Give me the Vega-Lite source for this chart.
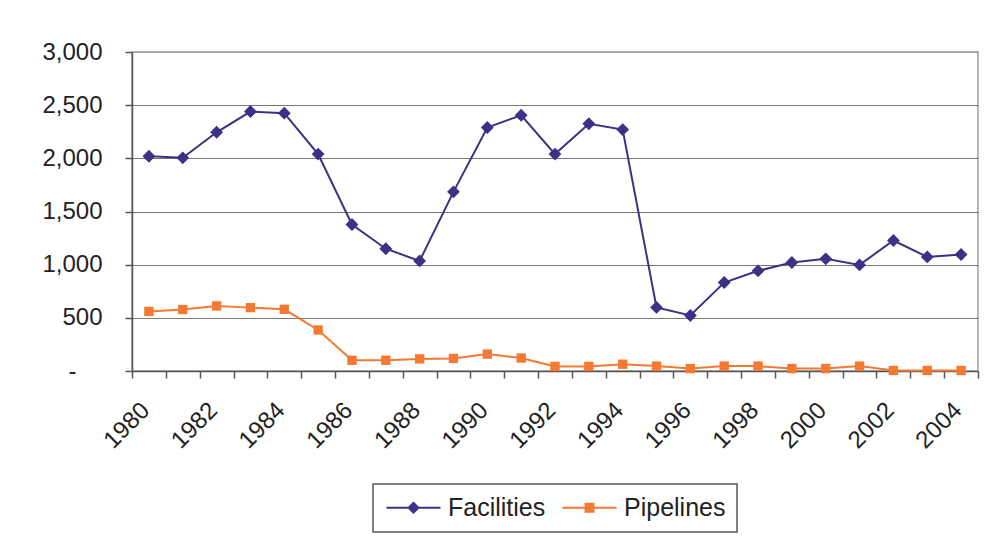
{
  "$schema": "https://vega.github.io/schema/vega-lite/v6.json",
  "width": 846,
  "height": 319,
  "autosize": {"type": "none"},
  "padding": {"left": 132, "top": 52, "right": 6, "bottom": 165},
  "background": "white",
  "config": {
    "font": "Liberation Sans",
    "view": {"stroke": "#A59D98", "strokeWidth": 1.5},
    "legend": {"strokeWidth": 1.5}
  },
  "data": {
    "values": [
      {"year": 1980, "series": "Facilities", "value": 2020},
      {"year": 1981, "series": "Facilities", "value": 2005},
      {"year": 1982, "series": "Facilities", "value": 2245},
      {"year": 1983, "series": "Facilities", "value": 2440},
      {"year": 1984, "series": "Facilities", "value": 2425},
      {"year": 1985, "series": "Facilities", "value": 2040},
      {"year": 1986, "series": "Facilities", "value": 1378},
      {"year": 1987, "series": "Facilities", "value": 1150},
      {"year": 1988, "series": "Facilities", "value": 1035},
      {"year": 1989, "series": "Facilities", "value": 1685},
      {"year": 1990, "series": "Facilities", "value": 2290},
      {"year": 1991, "series": "Facilities", "value": 2405},
      {"year": 1992, "series": "Facilities", "value": 2040},
      {"year": 1993, "series": "Facilities", "value": 2325},
      {"year": 1994, "series": "Facilities", "value": 2270},
      {"year": 1995, "series": "Facilities", "value": 598},
      {"year": 1996, "series": "Facilities", "value": 522},
      {"year": 1997, "series": "Facilities", "value": 832},
      {"year": 1998, "series": "Facilities", "value": 942},
      {"year": 1999, "series": "Facilities", "value": 1020},
      {"year": 2000, "series": "Facilities", "value": 1055},
      {"year": 2001, "series": "Facilities", "value": 998},
      {"year": 2002, "series": "Facilities", "value": 1227},
      {"year": 2003, "series": "Facilities", "value": 1073},
      {"year": 2004, "series": "Facilities", "value": 1096},
      {"year": 1980, "series": "Pipelines", "value": 560},
      {"year": 1981, "series": "Pipelines", "value": 578},
      {"year": 1982, "series": "Pipelines", "value": 612},
      {"year": 1983, "series": "Pipelines", "value": 596},
      {"year": 1984, "series": "Pipelines", "value": 580},
      {"year": 1985, "series": "Pipelines", "value": 386},
      {"year": 1986, "series": "Pipelines", "value": 101},
      {"year": 1987, "series": "Pipelines", "value": 101},
      {"year": 1988, "series": "Pipelines", "value": 114},
      {"year": 1989, "series": "Pipelines", "value": 118},
      {"year": 1990, "series": "Pipelines", "value": 159},
      {"year": 1991, "series": "Pipelines", "value": 122},
      {"year": 1992, "series": "Pipelines", "value": 43},
      {"year": 1993, "series": "Pipelines", "value": 43},
      {"year": 1994, "series": "Pipelines", "value": 64},
      {"year": 1995, "series": "Pipelines", "value": 46},
      {"year": 1996, "series": "Pipelines", "value": 23},
      {"year": 1997, "series": "Pipelines", "value": 46},
      {"year": 1998, "series": "Pipelines", "value": 46},
      {"year": 1999, "series": "Pipelines", "value": 23},
      {"year": 2000, "series": "Pipelines", "value": 23},
      {"year": 2001, "series": "Pipelines", "value": 46},
      {"year": 2002, "series": "Pipelines", "value": 5},
      {"year": 2003, "series": "Pipelines", "value": 5},
      {"year": 2004, "series": "Pipelines", "value": 5}
    ]
  },
  "encoding": {
    "x": {
      "field": "year",
      "type": "quantitative",
      "scale": {"domain": [1979.5, 2004.5], "nice": false, "zero": false},
      "axis": {
        "title": null,
        "grid": false,
        "values": [1979.5, 1980.5, 1981.5, 1982.5, 1983.5, 1984.5, 1985.5, 1986.5, 1987.5, 1988.5, 1989.5, 1990.5, 1991.5, 1992.5, 1993.5, 1994.5, 1995.5, 1996.5, 1997.5, 1998.5, 1999.5, 2000.5, 2001.5, 2002.5, 2003.5, 2004.5],
        "labelExpr": "((datum.value - 1979.5) % 2 == 0 && datum.value < 2004) ? format(datum.value + 0.5, 'd') : ''",
        "labelAngle": -45,
        "labelAlign": "right",
        "labelBaseline": "top",
        "labelOffset": 5,
        "labelPadding": 20,
        "labelFontSize": 24,
        "labelColor": "#222222",
        "labelOverlap": false,
        "labelFlush": false,
        "labelBound": false,
        "tickSize": 7,
        "tickColor": "#5A5555",
        "tickWidth": 1.5,
        "domainColor": "#5A5555",
        "domainWidth": 1.5
      }
    },
    "y": {
      "field": "value",
      "type": "quantitative",
      "scale": {"domain": [0, 3000], "nice": false},
      "axis": {
        "title": null,
        "values": [0, 500, 1000, 1500, 2000, 2500, 3000],
        "labelExpr": "datum.value == 0 ? '-' : format(datum.value, ',')",
        "labelFontSize": 24,
        "labelColor": "#222222",
        "labelPadding": {"condition": {"test": "datum.value == 0", "value": 49}, "value": 23},
        "tickSize": 7,
        "tickColor": "#5A5555",
        "tickWidth": 1.5,
        "domainColor": "#5A5555",
        "domainWidth": 1.5,
        "grid": true,
        "gridColor": {"condition": {"test": "datum.value == 3000", "value": "#A59D98"}, "value": "#777777"},
        "gridWidth": 1.2
      }
    }
  },
  "layer": [
    {
      "mark": {"type": "line", "strokeWidth": 2},
      "encoding": {
        "stroke": {"field": "series", "type": "nominal", "scale": {"range": ["#3B3287", "#F47A33"]}, "legend": null}
      }
    },
    {
      "transform": [{"filter": "datum.series == 'Facilities'"}],
      "mark": {"type": "point", "shape": "diamond", "filled": true, "opacity": 1, "size": 165, "color": "#3B3287"}
    },
    {
      "transform": [{"filter": "datum.series == 'Pipelines'"}],
      "mark": {"type": "point", "shape": "square", "filled": true, "opacity": 1, "size": 88, "color": "#F47A33"}
    },
    {
      "transform": [{"filter": "datum.year < 0"}],
      "mark": {"type": "point", "filled": true, "opacity": 1},
      "encoding": {
        "color": {
          "field": "series",
          "type": "nominal",
          "scale": {"domain": ["Facilities", "Pipelines"], "range": ["#3B3287", "#F47A33"]},
          "legend": {
            "orient": "none",
            "legendX": 241,
            "legendY": 432,
            "direction": "horizontal",
            "title": null,
            "labelFontSize": 25,
            "labelColor": "#222222",
            "symbolSize": 400,
            "symbolOffset": 17,
            "labelOffset": 22,
            "columnPadding": 14,
            "strokeColor": "#555555",
            "fillColor": "white",
            "padding": 11
          }
        },
        "shape": {
          "field": "series",
          "type": "nominal",
          "scale": {"domain": ["Facilities", "Pipelines"], "range": ["M-2.7,-0.1H2.7V0.1H-2.7ZM0,-0.63L0.63,0L0,0.63L-0.63,0Z", "M-2.7,-0.1H2.7V0.1H-2.7ZM-0.5,-0.5H0.5V0.5H-0.5Z"]}
        }
      }
    }
  ]
}
